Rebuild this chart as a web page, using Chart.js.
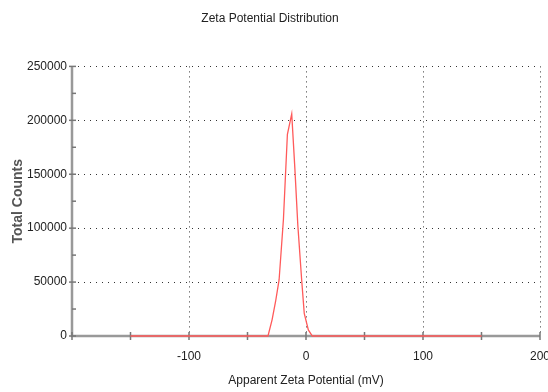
<!DOCTYPE html>
<html>
<head>
<meta charset="utf-8">
<script src="https://cdn.jsdelivr.net/npm/chart.js@4"></script>
<style>
  body { margin: 0; overflow: hidden; background: #fff; }
</style>
</head>
<body>
<canvas id="chart" width="580" height="392"></canvas>
<script>
const potentials = [-150, -32.5, -29, -26, -23, -19.3, -15.9, -12.2, -9.5, -7, -3.7, -1.5, 2, 5.4, 150];
const counts = [0, 0, 15000, 32000, 52000, 108000, 187000, 206000, 155000, 103000, 52000, 21000, 5600, 0, 0];

const sans = "'Liberation Sans', Arial, sans-serif";
const ctx = document.getElementById('chart').getContext('2d');

// gray axis lines plus tick marks that cross them
const axisLines = {
  id: 'axisLines',
  beforeDatasetsDraw(chart) {
    const { ctx, chartArea, scales } = chart;
    ctx.save();
    ctx.strokeStyle = '#999';
    ctx.lineWidth = 2.5;
    ctx.beginPath();
    ctx.moveTo(chartArea.left, chartArea.top);
    ctx.lineTo(chartArea.left, chartArea.bottom);
    ctx.lineTo(chartArea.right, chartArea.bottom);
    ctx.stroke();

    ctx.strokeStyle = '#777';
    ctx.lineWidth = 1.5;
    scales.x.ticks.forEach(t => {
      const px = scales.x.getPixelForValue(t.value);
      ctx.beginPath();
      ctx.moveTo(px, chartArea.bottom - 4);
      ctx.lineTo(px, chartArea.bottom + 4);
      ctx.stroke();
    });
    scales.y.ticks.forEach(t => {
      const py = scales.y.getPixelForValue(t.value);
      const major = t.value % 50000 === 0;
      ctx.beginPath();
      ctx.moveTo(chartArea.left - (major ? 3 : 0), py);
      ctx.lineTo(chartArea.left + 4, py);
      ctx.stroke();
    });
    ctx.restore();
  }
};

new Chart(ctx, {
  type: 'line',
  data: {
    datasets: [{
      data: potentials.map((p, i) => ({ x: p, y: counts[i] })),
      borderColor: '#ff5a5a',
      borderWidth: 1.3,
      pointRadius: 0,
      tension: 0,
      fill: false,
      clip: 5
    }]
  },
  options: {
    responsive: false,
    animation: false,
    layout: { padding: { left: 0, right: 40, top: 0, bottom: 0 } },
    plugins: {
      legend: { display: false },
      tooltip: { enabled: false },
      title: {
        display: true,
        text: 'Zeta Potential Distribution',
        color: '#222',
        font: { family: sans, size: 12, weight: 'normal' },
        padding: { top: 11, bottom: 41 }
      }
    },
    scales: {
      x: {
        type: 'linear',
        min: -200,
        max: 200,
        afterFit(scale) { scale.height = 56; },
        border: { display: false, dash: [1, 4] },
        grid: {
          drawTicks: false,
          color: c => (c.tick.value % 100 === 0 && c.tick.value !== -200) ? '#333' : 'transparent',
          lineWidth: 1
        },
        ticks: {
          stepSize: 50,
          padding: 13,
          maxRotation: 0,
          autoSkip: false,
          color: '#222',
          font: { family: sans, size: 12 },
          callback: v => (v % 100 === 0 && v !== -200) ? v : ''
        },
        title: {
          display: true,
          text: 'Apparent Zeta Potential (mV)',
          color: '#222',
          font: { family: sans, size: 12 },
          padding: { top: 0, bottom: 4 }
        }
      },
      y: {
        min: 0,
        max: 250000,
        afterFit(scale) { scale.width = 72; },
        border: { display: false, dash: [1, 5] },
        grid: {
          drawTicks: false,
          color: c => (c.tick.value % 50000 === 0 && c.tick.value !== 0) ? '#333' : 'transparent',
          lineWidth: 1
        },
        ticks: {
          stepSize: 25000,
          padding: 5,
          autoSkip: false,
          color: '#222',
          font: { family: sans, size: 12 },
          callback: v => v % 50000 === 0 ? v : ''
        },
        title: {
          display: true,
          text: 'Total Counts',
          color: '#555',
          font: { family: sans, size: 14, weight: 'bold' },
          padding: { top: 10, bottom: 0 }
        }
      }
    }
  },
  plugins: [axisLines]
});
</script>
</body>
</html>
